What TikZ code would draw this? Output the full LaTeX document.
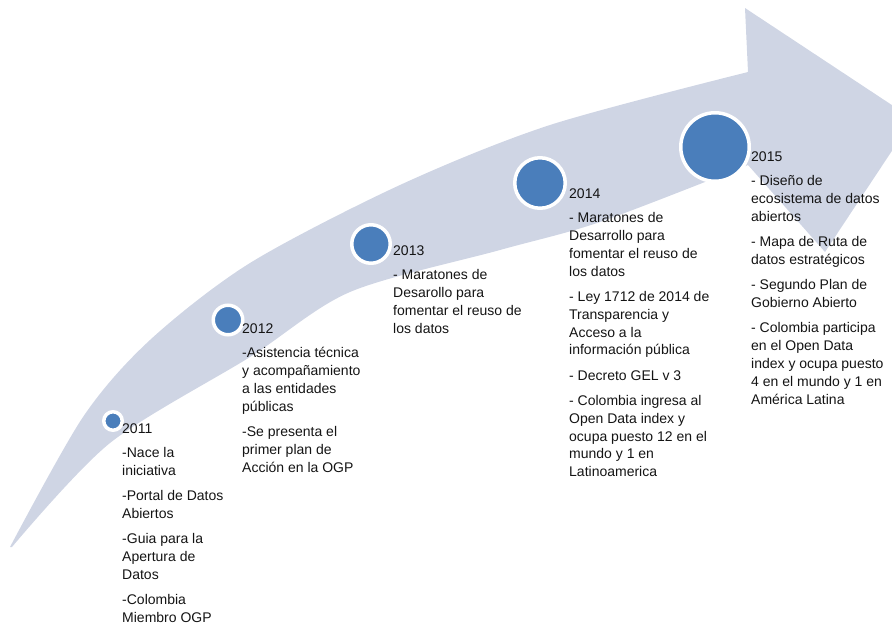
\documentclass[tikz,border=0pt]{standalone}
\usepackage{fontspec}
\setmainfont{Liberation Sans}
\definecolor{bandgray}{RGB}{207,213,228}
\definecolor{dotblue}{RGB}{74,126,187}
\tikzset{
	dot/.style={circle, fill=dotblue, draw=white, line width=3.5pt, inner sep=0pt},
	hito/.style={anchor=north west, inner sep=0pt, align=left, text=black!92,
		font=\fontsize{14}{17.8}\selectfont}
}

\begin{document}
\begin{tikzpicture}[x=1pt,y=-1pt]
		\useasboundingbox (0,0) rectangle (892,627);
		\clip (0,0) rectangle (892,627);
		% flecha curva
		\fill[bandgray] plot[smooth] coordinates {(10,547) (83,417) (150,340) (250,263) (400,185) (550,125) (748,72)}
			-- (745,8) -- (913,119) -- (825,252)
			-- plot[smooth] coordinates {(748,165) (600,222) (500,250) (350,292) (250,357) (110,443) (12,547)} -- cycle;
		
		% hitos
		\node[dot, minimum size=18.5pt] (c11) at (113,421) {};
		\node[dot, minimum size=29.5pt] (c12) at (228,320) {};
		\node[dot, minimum size=38.5pt] (c13) at (371,244) {};
		\node[dot, minimum size=50.5pt] (c14) at (540,183) {};
		\node[dot, minimum size=68.5pt] (c15) at (715,147) {};
		
		\node[hito] (t11) at (122,424) {2011\\[6pt]
			-Nace la\\ iniciativa\\[7.5pt]
			-Portal de Datos\\ Abiertos\\[7.5pt]
			-Guia para la\\ Apertura de\\ Datos\\[7.5pt]
			-Colombia\\ Miembro OGP};
		\node[hito] (t12) at (242,324) {2012\\[6pt]
			-Asistencia técnica\\ y acompañamiento\\ a las entidades\\ públicas\\[7.5pt]
			-Se presenta el\\ primer plan de\\ Acción en la OGP};
		\node[hito] (t13) at (393,246) {2013\\[6pt]
			- Maratones de\\ Desarollo para\\ fomentar el reuso de\\ los datos};
		\node[hito] (t14) at (569,189) {2014\\[6pt]
			- Maratones de\\ Desarrollo para\\ fomentar el reuso de\\ los datos\\[7.5pt]
			- Ley 1712 de 2014 de\\ Transparencia y\\ Acceso a la\\ información pública\\[7.5pt]
			- Decreto GEL v 3\\[7.5pt]
			- Colombia ingresa al\\ Open Data index y\\ ocupa puesto 12 en el\\ mundo y 1 en\\ Latinoamerica};
		\node[hito] (t15) at (751,152) {2015\\[6pt]
			- Diseño de\\ ecosistema de datos\\ abiertos\\[7.5pt]
			- Mapa de Ruta de\\ datos estratégicos\\[7.5pt]
			- Segundo Plan de\\ Gobierno Abierto\\[7.5pt]
			- Colombia participa\\ en el Open Data\\ index y ocupa puesto\\ 4 en el mundo y 1 en\\ América Latina};
	\end{tikzpicture}
\end{document}
